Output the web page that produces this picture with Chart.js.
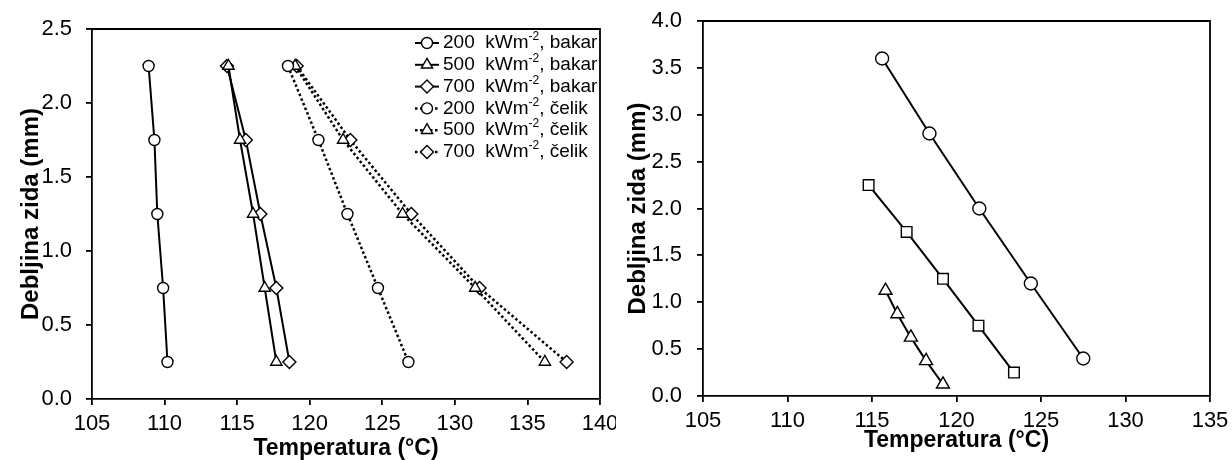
<!DOCTYPE html>
<html>
<head>
<meta charset="utf-8">
<script src="https://cdn.jsdelivr.net/npm/chart.js@4/dist/chart.umd.min.js"></script>
<style>
  html, body { margin: 0; padding: 0; background: #fff; }
  .wrap { position: relative; width: 1232px; height: 460px; }
  .box { position: absolute; top: 0; height: 460px; width: 616px; }
  #left { left: 0; }
  #right { left: 616px; }
</style>
</head>
<body>
<div class="wrap">
  <div class="box" id="left"><canvas id="leftChart"></canvas></div>
  <div class="box" id="right"><canvas id="rightChart"></canvas></div>
</div>
<script>
// Left chart: wall thickness (mm) vs temperature for copper / steel
const thicknessL = [2.25, 1.75, 1.25, 0.75, 0.25];
const cu200 = [108.9, 109.3, 109.5, 109.9, 110.2];
const cu500 = [114.4, 115.2, 116.1, 116.9, 117.7];
const cu700 = [114.3, 115.6, 116.6, 117.7, 118.6];
const st200 = [118.5, 120.6, 122.6, 124.7, 126.8];
const st500 = [119.0, 122.3, 126.4, 131.4, 136.2];
const st700 = [119.1, 122.8, 127.0, 131.7, 137.7];
const legendLabels = [
  "200  kWm⁻², bakar",
  "500  kWm⁻², bakar",
  "700  kWm⁻², bakar",
  "200  kWm⁻², čelik",
  "500  kWm⁻², čelik",
  "700  kWm⁻², čelik"
];

// Right chart
const circleT = [115.6, 118.4, 121.35, 124.4, 127.5];
const circleY = [3.6, 2.8, 2.0, 1.2, 0.4];
const squareT = [114.8, 117.05, 119.2, 121.3, 123.4];
const squareY = [2.25, 1.75, 1.25, 0.75, 0.25];
const triT = [115.8, 116.5, 117.3, 118.2, 119.2];
const triY = [1.125, 0.875, 0.625, 0.375, 0.125];

const xTitle = "Temperatura (°C)";
const yTitle = "Debljina zida (mm)";

const FONT = "'Liberation Sans', Arial, sans-serif";
Chart.defaults.font.family = FONT;
Chart.defaults.color = "#000";
Chart.defaults.animation = false;

function pts(xs, ys) {
  return xs.map(function (x, i) { return { x: x, y: ys[i] }; });
}

function series(xs, ys, style, radius, dotted) {
  return {
    data: pts(xs, ys),
    showLine: true,
    borderColor: "#000",
    borderWidth: dotted ? 2.5 : 2,
    borderDash: dotted ? [2.5, 2.5] : [],
    pointStyle: style,
    pointRadius: radius,
    pointBackgroundColor: "#fff",
    pointBorderColor: "#000",
    pointBorderWidth: 1.4
  };
}

// top + right frame around plot area
const framePlugin = {
  id: "frame",
  afterDraw: function (chart) {
    const a = chart.chartArea;
    const ctx = chart.ctx;
    ctx.save();
    ctx.strokeStyle = "#000";
    ctx.lineWidth = 1.8;
    ctx.beginPath();
    ctx.moveTo(a.left, a.top);
    ctx.lineTo(a.right, a.top);
    ctx.lineTo(a.right, a.bottom);
    ctx.stroke();
    ctx.restore();
  }
};

// legend drawn inside the plot, line sample + marker + text with superscript
const legendPlugin = {
  id: "innerLegend",
  afterDraw: function (chart, args, opts) {
    if (!opts.labels) return;
    const ctx = chart.ctx;
    ctx.save();
    opts.labels.forEach(function (label, i) {
      const ds = chart.data.datasets[i];
      const y = opts.top + i * opts.rowH;
      const x0 = opts.left;
      ctx.strokeStyle = "#000";
      ctx.lineWidth = ds.borderWidth;
      ctx.setLineDash(ds.borderDash || []);
      ctx.beginPath();
      ctx.moveTo(x0, y);
      ctx.lineTo(x0 + 24, y);
      ctx.stroke();
      ctx.setLineDash([]);
      ctx.fillStyle = "#fff";
      ctx.strokeStyle = "#000";
      ctx.lineWidth = ds.pointBorderWidth;
      Chart.helpers.drawPoint(ctx, {
        pointStyle: ds.pointStyle,
        radius: ds.pointRadius,
        borderWidth: ds.pointBorderWidth
      }, x0 + 12, y);
      // text
      const parts = label.split("⁻²");
      let tx = x0 + 28;
      ctx.fillStyle = "#000";
      ctx.textBaseline = "middle";
      ctx.textAlign = "left";
      ctx.font = opts.size + "px " + FONT;
      ctx.fillText(parts[0], tx, y);
      tx += ctx.measureText(parts[0]).width;
      ctx.font = Math.round(opts.size * 0.62) + "px " + FONT;
      ctx.fillText("-2", tx, y - opts.size * 0.32);
      tx += ctx.measureText("-2").width;
      ctx.font = opts.size + "px " + FONT;
      ctx.fillText(parts[1], tx, y);
    });
    ctx.restore();
  }
};

function axes(o) {
  const tickGrid = {
    display: true,
    drawOnChartArea: false,
    drawTicks: true,
    tickLength: 6,
    color: "#000",
    lineWidth: 1.8
  };
  return {
    x: {
      type: "linear",
      min: o.xmin, max: o.xmax,
      afterFit: function (s) {
        s.height = o.xh;
        s.paddingLeft = 0;
        s.paddingRight = 0;
      },
      border: { color: "#000", width: 1.8 },
      grid: tickGrid,
      ticks: { stepSize: 5, padding: 6, font: { size: 22 }, color: "#000", maxRotation: 0 },
      title: {
        display: true, text: xTitle, color: "#000",
        font: { size: 23, weight: "bold", lineHeight: 1 },
        padding: { top: 0, bottom: o.xtPad }
      }
    },
    y: {
      type: "linear",
      min: 0, max: o.ymax,
      afterFit: function (s) {
        s.width = o.yw;
        s.paddingTop = 0;
        s.paddingBottom = 0;
      },
      border: { color: "#000", width: 1.8 },
      grid: tickGrid,
      ticks: {
        stepSize: 0.5, padding: o.ytickPad, font: { size: 22 }, color: "#000",
        callback: function (v) { return v.toFixed(1); }
      },
      title: {
        display: true, text: yTitle, color: "#000",
        font: { size: 24, weight: "bold", lineHeight: 1.2 },
        padding: { top: o.ytPad, bottom: 0 }
      }
    }
  };
}

new Chart(document.getElementById("leftChart"), {
  type: "scatter",
  data: {
    datasets: [
      series(cu200, thicknessL, "circle", 5.5, false),
      series(cu500, thicknessL, "triangle", 6.5, false),
      series(cu700, thicknessL, "rectRot", 6.5, false),
      series(st200, thicknessL, "circle", 5.5, true),
      series(st500, thicknessL, "triangle", 6.5, true),
      series(st700, thicknessL, "rectRot", 6.5, true)
    ]
  },
  options: {
    responsive: true,
    maintainAspectRatio: false,
    layout: { padding: { top: 29, right: 16, left: 0, bottom: 0 } },
    scales: axes({ xmin: 105, xmax: 140, ymax: 2.5, xh: 61, yw: 92, xtPad: 0, ytPad: 17, ytickPad: 14 }),
    plugins: {
      legend: { display: false },
      tooltip: { enabled: false },
      innerLegend: { labels: legendLabels, left: 415, top: 43, rowH: 21.8, size: 19 }
    }
  },
  plugins: [framePlugin, legendPlugin]
});

new Chart(document.getElementById("rightChart"), {
  type: "scatter",
  data: {
    datasets: [
      series(circleT, circleY, "circle", 6.5, false),
      series(squareT, squareY, "rect", 7.5, false),
      series(triT, triY, "triangle", 7.5, false)
    ]
  },
  options: {
    responsive: true,
    maintainAspectRatio: false,
    layout: { padding: { top: 21, right: 22, left: 0, bottom: 0 } },
    scales: axes({ xmin: 105, xmax: 135, ymax: 4, xh: 64, yw: 87, xtPad: 8, ytPad: 8, ytickPad: 15 }),
    plugins: {
      legend: { display: false },
      tooltip: { enabled: false }
    }
  },
  plugins: [framePlugin]
});
</script>
</body>
</html>
